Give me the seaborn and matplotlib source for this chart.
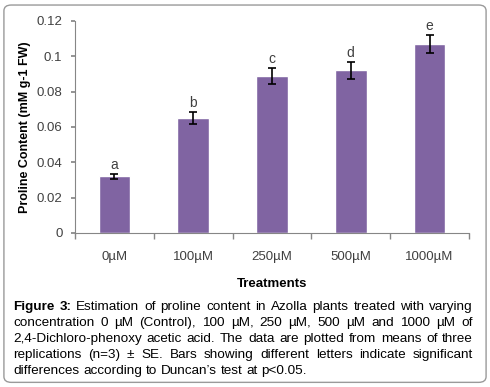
import numpy as np
import pandas as pd
import matplotlib
matplotlib.use("Agg")
import matplotlib.pyplot as plt
import seaborn as sns
from matplotlib.patches import FancyBboxPatch

# data
treatments = ["0µM", "100µM", "250µM", "500µM", "1000µM"]
proline = [0.032, 0.065, 0.089, 0.092, 0.107]
se = [0.0016, 0.0035, 0.0046, 0.0047, 0.0052]
letters = ["a", "b", "c", "d", "e"]

caption_lines = [
    [("Figure 3:", "bold"), ("Estimation of proline content in Azolla plants treated with varying", "normal")],
    [("concentration 0 µM (Control), 100 µM, 250 µM, 500 µM and 1000 µM of", "normal")],
    [("2,4-Dichloro-phenoxy acetic acid. The data are plotted from means of three", "normal")],
    [("replications (n=3) ± SE. Bars showing different letters indicate significant", "normal")],
    [("differences according to Duncan’s test at p<0.05.", "normal")],
]

sns.set_theme(style="white")
plt.rcParams['font.family'] = ['Liberation Sans', 'DejaVu Sans']
BAR = "#8064A2"
TXT = "#404040"

df = pd.DataFrame({"Treatment": treatments, "Proline": proline, "SE": se})

fig = plt.figure(figsize=(4.9, 3.87), dpi=100)
ax = fig.add_axes([0.153, 0.398, 0.804, 0.548])

sns.barplot(data=df, x="Treatment", y="Proline", color=BAR, width=0.4,
            saturation=1, errorbar=None, ax=ax)
ax.errorbar(np.arange(len(treatments)), proline, yerr=se, fmt="none",
            ecolor="black", elinewidth=1.2, capsize=3, capthick=1.2)
for i, (v, e, l) in enumerate(zip(proline, se, letters)):
    ax.text(i, v + e + 0.001, l, ha="center", va="bottom", fontsize=10, color=TXT)

ax.set_ylim(0, 0.12)
ax.set_xlim(-0.5, len(treatments) - 0.5)
yt = [0, 0.02, 0.04, 0.06, 0.08, 0.1, 0.12]
ax.set_yticks(yt)
ax.set_yticklabels([f"{t:g}" for t in yt], fontsize=9.5, color=TXT)
ax.set_xticks(np.arange(len(treatments)))
ax.set_xticklabels(treatments, fontsize=9.5, color=TXT)
ax.tick_params(axis="x", length=0, pad=13)
ax.tick_params(axis="y", length=3, direction="out", left=True, color="#868686", pad=6)
# minor ticks between categories, like the spreadsheet axis
ax.set_xticks(np.arange(-0.5, len(treatments)), minor=True)
ax.tick_params(axis="x", which="minor", length=4, bottom=True, direction="out", color="#868686")
for s in ["top", "right"]:
    ax.spines[s].set_visible(False)
for s in ["left", "bottom"]:
    ax.spines[s].set_color("#868686")
    ax.spines[s].set_linewidth(0.8)

ax.set_xlabel("Treatments", fontsize=9.5, fontweight="bold", color="black", labelpad=11)
ax.set_ylabel("Proline Content (mM g-1 FW)", fontsize=9, fontweight="bold", color="black", labelpad=4)

# rounded frame around the whole figure
frame = FancyBboxPatch((0.008, 0.012), 0.984, 0.975, boxstyle="round,pad=0,rounding_size=0.015",
                       transform=fig.transFigure, fill=False, edgecolor="#9a9a9a", linewidth=1.0)
fig.patches.append(frame)

# justified caption, one text per word
fig.canvas.draw()
renderer = fig.canvas.get_renderer()
x0, x1 = 13 / 490, 473 / 490
line_y = [310, 326, 342, 358, 374]
fs = 9.7
sp = fig.text(0, 0, "a a", fontsize=fs, family="Liberation Sans")
sa = fig.text(0, 0, "aa", fontsize=fs, family="Liberation Sans")
space_w = (sp.get_window_extent(renderer).width - sa.get_window_extent(renderer).width) / fig.bbox.width
sp.remove(); sa.remove()
for li, (segs, ypx) in enumerate(zip(caption_lines, line_y)):
    words = []
    for txt, w in segs:
        for wd in txt.split(" "):
            words.append((wd, w))
    y = 1 - ypx / 387
    objs = []
    for wd, w in words:
        t = fig.text(0, y, wd, fontsize=fs, fontweight=w, family="Liberation Sans",
                     va="baseline", ha="left", color="black")
        objs.append(t)
    widths = [o.get_window_extent(renderer).width / fig.bbox.width for o in objs]
    if li == len(caption_lines) - 1:
        gap = space_w
    else:
        gap = (x1 - x0 - sum(widths)) / (len(objs) - 1)
    x = x0
    for o, wdt in zip(objs, widths):
        o.set_x(x)
        x += wdt + gap

fig.savefig("out.png", dpi=100)
